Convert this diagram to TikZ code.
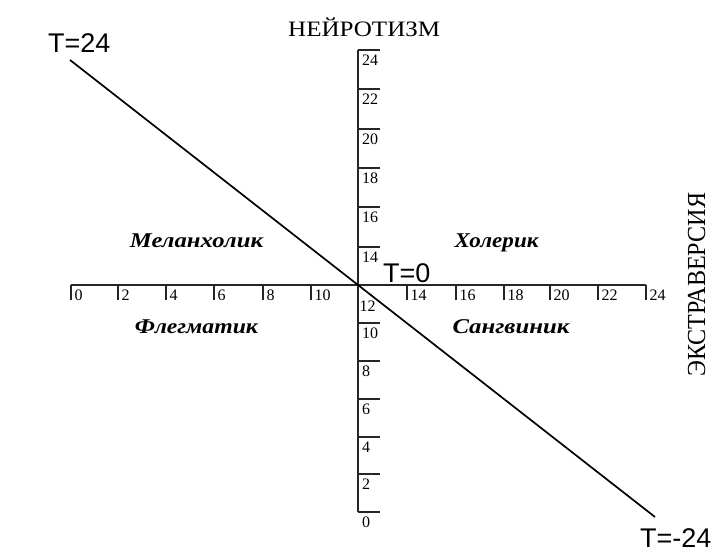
\documentclass[tikz,border=0pt]{standalone}
\usepackage{fontspec}
\usepackage{graphicx}
\setmainfont{Liberation Serif}
\newfontfamily\sansT{Liberation Sans}
\begin{document}
\begin{tikzpicture}[x=1bp,y=1bp,
  axisline/.style={line width=1.7bp,black!85},
  tickline/.style={line width=1.4bp,black!85},
  diagline/.style={line width=1.7bp,black},
  ticklab/.style={inner sep=0pt,anchor=west,font=\fontsize{16bp}{16bp}\selectfont},
  tlab/.style={inner sep=0pt,anchor=base west,font=\sansT\fontsize{27bp}{27bp}\selectfont},
  quad/.style={inner sep=0pt,anchor=base,font=\fontsize{21bp}{21bp}\selectfont\bfseries\itshape}]
\useasboundingbox[fill=white] (0,0) rectangle (720,553);
% axes
\coordinate (hl) at (71,268);
\coordinate (hr) at (646,268);
\coordinate (vt) at (358,503);
\coordinate (vb) at (358,41);
\draw[axisline] (hl) -- (hr);
\draw[axisline] (vt) -- (vb);
% horizontal ticks and labels
\foreach \x/\v in {71/0,118/2,166/4,214/6,263/8,311/10,407/14,456/16,504/18,550/20,598/22,646/24}{
  \coordinate (ht\v) at (\x,268);
  \draw[tickline] (ht\v) -- ++(0,-15);
  \node[ticklab] (hlab\v) at ([xshift=3.5bp,yshift=-10bp]ht\v) {\v};
}
% vertical ticks and labels
\foreach \y/\v in {503/24,464/22,424/20,385/18,346/16,306/14,230/10,192/8,154/6,116/4,79/2,41/0}{
  \coordinate (vtk\v) at (358,\y);
  \draw[tickline] (vtk\v) -- ++(22,0);
  \node[ticklab] (vlab\v) at ([xshift=4bp,yshift=-10bp]vtk\v) {\v};
}
\node[ticklab] (vlab12) at (359.5,247) {12};
% diagonal
\coordinate (d1) at (70,493);
\coordinate (d2) at (655,36);
\draw[diagline] (d1) -- (d2);
% T labels
\node[tlab] (t24) at (48,500) {T=24};
\node[tlab] (t0) at (383,270) {T=0};
\node[tlab] (tm24) at (640,5) {T=-24};
% axis titles
\node[inner sep=0pt,anchor=base west] (neuro) at (288,516)
  {\resizebox{152bp}{\height}{\fontsize{22bp}{22bp}\selectfont НЕЙРОТИЗМ}};
\node[inner sep=0pt,anchor=base west,rotate=90] (extra) at (705,176)
  {\resizebox{184bp}{\height}{\fontsize{26bp}{26bp}\selectfont ЭКСТРАВЕРСИЯ}};
% quadrant labels
\node[quad] (mel) at (196.5,305) {\resizebox{133bp}{\height}{Меланхолик}};
\node[quad] (hol) at (496.5,305) {\resizebox{84bp}{\height}{Холерик}};
\node[quad] (fle) at (196.5,219) {\resizebox{123bp}{\height}{Флегматик}};
\node[quad] (san) at (511,219) {\resizebox{117bp}{\height}{Сангвиник}};
\end{tikzpicture}
\end{document}
